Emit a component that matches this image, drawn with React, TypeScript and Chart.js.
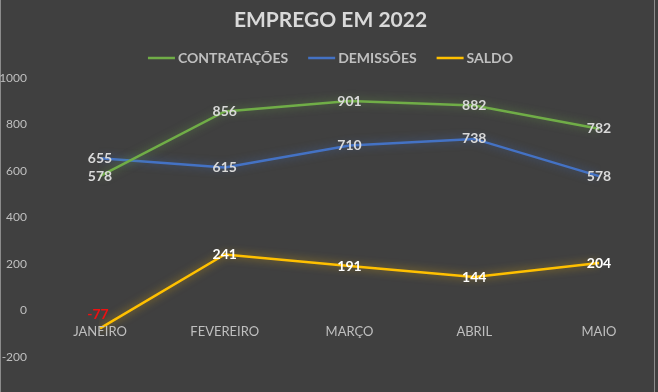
import React, { useEffect, useRef } from "react";
import { Chart, registerables } from "chart.js";

Chart.register(...registerables);

const titleText = "EMPREGO EM 2022";
const categories = ["JANEIRO", "FEVEREIRO", "MARÇO", "ABRIL", "MAIO"];
const contratacoes = [578, 856, 901, 882, 782];
const demissoes = [655, 615, 710, 738, 578];
const saldo = [-77, 241, 191, 144, 204];
const yMin = -200;
const yMax = 1000;
const yStep = 200;

const GREEN = "#70ad47";
const BLUE = "#4472c4";
const YELLOW = "#ffc000";
const FONT = "Lato, 'Open Sans', sans-serif";

const bgPlugin = {
  id: "bg",
  beforeDraw(chart: any) {
    const { ctx, width, height } = chart;
    ctx.save();
    ctx.fillStyle = "#404040";
    ctx.fillRect(0, 0, width, height);
    ctx.strokeStyle = "#8c8c8c";
    ctx.lineWidth = 1;
    ctx.beginPath();
    ctx.moveTo(0.5, 0);
    ctx.lineTo(0.5, height);
    ctx.moveTo(width - 3.5, 0);
    ctx.lineTo(width - 3.5, height);
    ctx.stroke();
    ctx.restore();
  },
};

const titlePlugin = {
  id: "customTitle",
  afterDraw(chart: any) {
    const ctx = chart.ctx;
    ctx.save();
    ctx.font = `bold 21px ${FONT}`;
    ctx.fillStyle = "#d9d9d9";
    ctx.textAlign = "center";
    ctx.textBaseline = "middle";
    ctx.fillText(titleText, 330.5, 20);
    ctx.restore();
  },
};

// category labels drawn just below the zero line of the value axis
const xLabelPlugin = {
  id: "xLabels",
  afterDatasetsDraw(chart: any) {
    const ctx = chart.ctx;
    const xs = chart.scales.x;
    const ys = chart.scales.y;
    const y0 = ys.getPixelForValue(0);
    ctx.save();
    ctx.font = `13px ${FONT}`;
    ctx.fillStyle = "#bfbfbf";
    ctx.textAlign = "center";
    ctx.textBaseline = "middle";
    xs.getLabels().forEach((lab: string, i: number) => {
      ctx.fillText(lab, xs.getPixelForValue(i), y0 + 21);
    });
    ctx.restore();
  },
};

const legendPlugin = {
  id: "customLegend",
  afterDraw(chart: any) {
    const ctx = chart.ctx;
    ctx.save();
    ctx.font = `bold 14px ${FONT}`;
    ctx.textBaseline = "middle";
    ctx.textAlign = "left";
    const lineW = 27;
    const gapText = 3;
    const gapItem = 20;
    const items = chart.data.datasets.map((ds: any) => ({
      text: ds.label,
      color: ds.borderColor,
      w: ctx.measureText(ds.label).width,
    }));
    const total =
      items.reduce((s: number, it: any) => s + lineW + gapText + it.w, 0) +
      gapItem * (items.length - 1);
    let x = 330.5 - total / 2;
    const y = 58;
    items.forEach((it: any) => {
      ctx.strokeStyle = it.color;
      ctx.lineWidth = 2.5;
      ctx.beginPath();
      ctx.moveTo(x, y);
      ctx.lineTo(x + lineW, y);
      ctx.stroke();
      x += lineW + gapText;
      ctx.fillStyle = "#bfbfbf";
      ctx.fillText(it.text, x, y);
      x += it.w + gapItem;
    });
    ctx.restore();
  },
};

const glowPlugin = {
  id: "glow",
  beforeDatasetDraw(chart: any, args: any) {
    const ds = chart.data.datasets[args.index];
    const ctx = chart.ctx;
    ctx.save();
    ctx.shadowColor = ds.glowColor;
    ctx.shadowBlur = 9;
  },
  afterDatasetDraw(chart: any) {
    chart.ctx.restore();
  },
};

const labelPlugin = {
  id: "valueLabels",
  afterDatasetsDraw(chart: any) {
    const ctx = chart.ctx;
    ctx.save();
    ctx.font = `bold 14px ${FONT}`;
    ctx.textAlign = "center";
    ctx.textBaseline = "middle";
    chart.data.datasets.forEach((ds: any, i: number) => {
      const meta = chart.getDatasetMeta(i);
      meta.data.forEach((pt: any, j: number) => {
        const v = ds.data[j];
        const neg = v < 0;
        ctx.fillStyle = neg ? "#ee1111" : ds.labelColor;
        ctx.fillText(String(v), pt.x - (neg ? 2 : 0), pt.y + (neg ? -14 : 0));
      });
    });
    ctx.restore();
  },
};

export default function App() {
  const ref = useRef<HTMLCanvasElement | null>(null);

  useEffect(() => {
    if (!ref.current) return;
    const chart = new Chart(ref.current, {
      type: "line",
      data: {
        labels: categories,
        datasets: [
          {
            label: "CONTRATAÇÕES",
            data: contratacoes,
            borderColor: GREEN,
            backgroundColor: GREEN,
            borderWidth: 2.5,
            pointRadius: 0,
            tension: 0,
            glowColor: "rgba(112,173,71,0.6)",
            labelColor: "#d9d9d9",
          } as any,
          {
            label: "DEMISSÕES",
            data: demissoes,
            borderColor: BLUE,
            backgroundColor: BLUE,
            borderWidth: 2.5,
            pointRadius: 0,
            tension: 0,
            glowColor: "rgba(68,114,196,0.6)",
            labelColor: "#d9d9d9",
          } as any,
          {
            label: "SALDO",
            data: saldo,
            borderColor: YELLOW,
            backgroundColor: YELLOW,
            borderWidth: 2.5,
            pointRadius: 0,
            tension: 0,
            glowColor: "rgba(255,192,0,0.6)",
            labelColor: "#ffffff",
          } as any,
        ],
      },
      options: {
        responsive: false,
        animation: false,
        layout: { padding: { left: 0, right: 59, top: 78, bottom: 35 } },
        plugins: {
          title: { display: false },
          legend: { display: false },
          tooltip: { enabled: false },
        },
        scales: {
          x: {
            type: "category",
            offset: false,
            display: false,
          },
          y: {
            type: "linear",
            min: yMin,
            max: yMax,
            grid: { display: false, drawTicks: false },
            border: { display: false },
            ticks: {
              stepSize: yStep,
              color: "#bfbfbf",
              font: { family: FONT, size: 12 },
              padding: 73,
              callback: (v: any) => String(v),
            },
            afterFit(scale: any) {
              scale.width = 100;
              scale.paddingTop = 0;
              scale.paddingBottom = 0;
            },
          },
        },
      } as any,
      plugins: [bgPlugin, glowPlugin, labelPlugin, xLabelPlugin, legendPlugin, titlePlugin],
    });
    return () => chart.destroy();
  }, []);

  return (
    <div style={{ position: "absolute", left: 0, top: 0, width: 658, height: 392 }}>
      <canvas ref={ref} width={658} height={392} style={{ display: "block" }} />
    </div>
  );
}
